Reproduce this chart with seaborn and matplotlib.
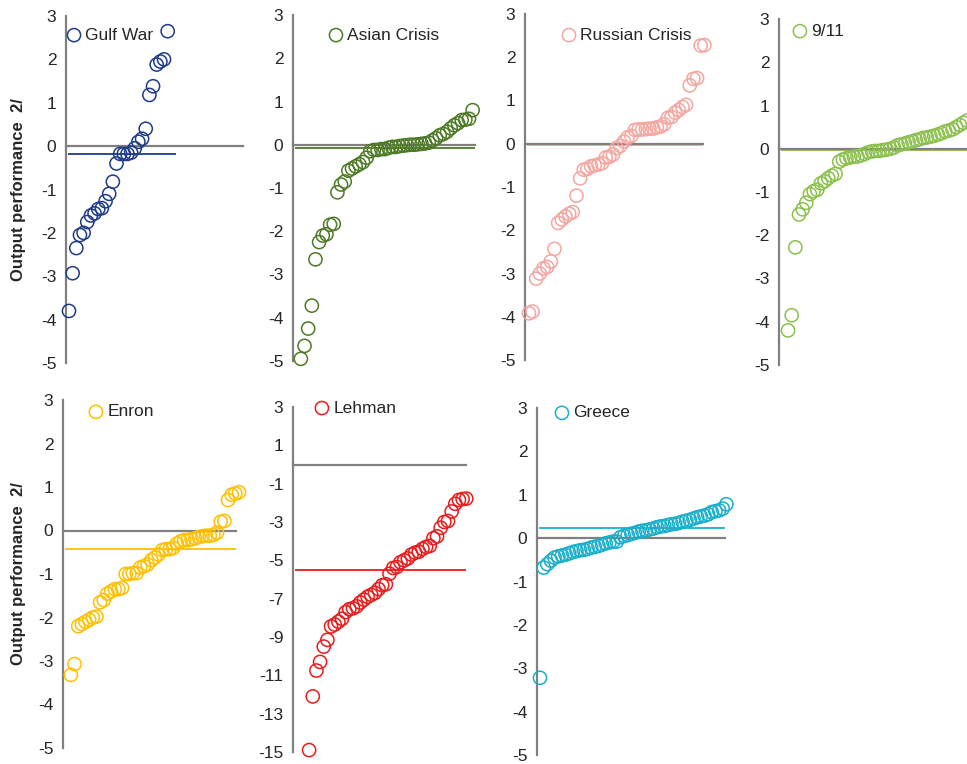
# sorted output performance by event, one panel per shock
import numpy as np
import matplotlib.pyplot as plt
import seaborn as sns

events = ["Gulf War", "Asian Crisis", "Russian Crisis", "9/11", "Enron", "Lehman", "Greece"]

gulf_war = [-3.8, -2.93, -2.35, -2.05, -2.0, -1.75, -1.6, -1.55, -1.45, -1.43, -1.27, -1.1,
            -0.82, -0.4, -0.18, -0.18, -0.18, -0.15, -0.05, 0.1, 0.17, 0.4, 1.18, 1.38,
            1.88, 1.95, 2.0, 2.65]
asian_crisis = [-4.95, -4.65, -4.25, -3.72, -2.65, -2.25, -2.1, -2.07, -1.85, -1.83,
                -1.1, -0.92, -0.85, -0.6, -0.55, -0.5, -0.45, -0.4, -0.3, -0.15,
                -0.12, -0.12, -0.1, -0.1, -0.07, -0.05, -0.05, -0.03, -0.02, -0.01,
                0.0, 0.0, 0.01, 0.02, 0.03, 0.05, 0.1, 0.15, 0.22, 0.25,
                0.3, 0.38, 0.45, 0.5, 0.57, 0.58, 0.6, 0.8]
russian_crisis = [-3.92, -3.88, -3.12, -3.0, -2.88, -2.85, -2.72, -2.43, -1.83, -1.75,
                  -1.68, -1.62, -1.58, -1.2, -0.8, -0.6, -0.58, -0.52, -0.5, -0.48,
                  -0.45, -0.32, -0.3, -0.25, -0.1, -0.05, 0.05, 0.15, 0.18, 0.32,
                  0.33, 0.33, 0.34, 0.35, 0.35, 0.38, 0.4, 0.45, 0.6, 0.62,
                  0.72, 0.78, 0.85, 0.9, 1.35, 1.5, 1.52, 2.27, 2.28]
sept_11 = [-4.2, -3.85, -2.28, -1.52, -1.4, -1.25, -1.05, -0.98, -0.95, -0.8,
           -0.75, -0.68, -0.62, -0.58, -0.3, -0.25, -0.22, -0.2, -0.18, -0.18,
           -0.15, -0.12, -0.08, -0.06, -0.05, -0.05, -0.03, -0.02, 0.0, 0.03,
           0.08, 0.1, 0.12, 0.15, 0.17, 0.2, 0.22, 0.25, 0.26, 0.28,
           0.3, 0.33, 0.36, 0.4, 0.42, 0.45, 0.5, 0.55, 0.6, 0.65]
enron = [-3.32, -3.07, -2.2, -2.15, -2.1, -2.05, -2.0, -1.98, -1.65, -1.6,
         -1.45, -1.4, -1.35, -1.35, -1.32, -1.0, -1.0, -0.98, -0.98, -0.85,
         -0.82, -0.78, -0.68, -0.62, -0.55, -0.45, -0.43, -0.43, -0.4, -0.3,
         -0.25, -0.22, -0.22, -0.2, -0.18, -0.15, -0.13, -0.12, -0.12, -0.1,
         -0.05, 0.2, 0.22, 0.7, 0.82, 0.85, 0.88]
lehman = [-14.9, -12.1, -10.75, -10.3, -9.5, -9.15, -8.45, -8.35, -8.2, -8.05,
          -7.7, -7.55, -7.5, -7.4, -7.2, -7.05, -6.9, -6.8, -6.7, -6.5,
          -6.3, -6.25, -5.7, -5.4, -5.35, -5.1, -5.0, -4.9, -4.7, -4.6,
          -4.55, -4.4, -4.3, -4.25, -3.85, -3.75, -3.3, -3.0, -2.95, -2.45,
          -2.05, -1.85, -1.8, -1.78]
greece = [-3.22, -0.68, -0.6, -0.52, -0.45, -0.42, -0.4, -0.38, -0.35, -0.32,
          -0.3, -0.28, -0.27, -0.25, -0.22, -0.2, -0.18, -0.15, -0.12, -0.1,
          -0.08, -0.08, 0.02, 0.05, 0.07, 0.1, 0.12, 0.15, 0.17, 0.18,
          0.2, 0.22, 0.25, 0.27, 0.28, 0.3, 0.32, 0.33, 0.35, 0.38,
          0.4, 0.42, 0.45, 0.48, 0.5, 0.52, 0.55, 0.6, 0.62, 0.64, 0.68, 0.78]

series = [gulf_war, asian_crisis, russian_crisis, sept_11, enron, lehman, greece]
average_lines = [-0.18, -0.08, -0.04, -0.03, -0.43, -5.5, 0.24]
colors = ["#1F3C88", "#4E7A27", "#F4A6A0", "#8CC04E", "#FFC000", "#E81C1C", "#19AFCB"]

sns.set_style("white")
plt.rcParams["font.family"] = ["Liberation Sans", "DejaVu Sans"]
plt.rcParams["axes.unicode_minus"] = False

W, H = 967, 764
PX_PER_UNIT = 3.93
STEP = 0.93
GRAY = "#808080"

# axis x px, top px, bottom px, x max, first point x, legend anchor, x ticks
layout = [
    (66, 16, 363, 45.0, 0.76, (0.006, 0.945), False),
    (293, 15, 361, 46.3, 2.0, (0.198, 0.942), False),
    (525, 14, 360, 45.3, 1.0, (0.208, 0.939), True),
    (779, 19, 365, 50.0, 2.3, (0.071, 0.965), False),
    (63, 400, 748, 44.0, 2.0, (0.150, 0.966), False),
    (293, 407, 752, 44.0, 4.1, (0.127, 0.997), True),
    (537, 408, 755, 47.8, 0.76, (0.096, 0.986), False),
]

fig = plt.figure(figsize=(W / 100, H / 100), dpi=100)

for i, (name, vals, avg, col) in enumerate(zip(events, series, average_lines, colors)):
    ax_x, top, bottom, xmax, x0, leg_xy, xticks = layout[i]
    ax = fig.add_axes([ax_x / W, 1 - bottom / H, xmax * PX_PER_UNIT / W, (bottom - top) / H])
    xs = x0 + STEP * np.arange(len(vals))

    sns.scatterplot(x=xs, y=vals, ax=ax, marker="o", s=90, facecolors="none",
                    edgecolor=col, linewidth=1.1, label=name, zorder=3, clip_on=False)
    ax.hlines(avg, 0.4, min(xs[-1] + 2, xmax), color=col, lw=1.3, zorder=2)

    if name == "Lehman":
        ax.set_ylim(-15, 3)
        ax.set_yticks(np.arange(-15, 4, 2))
    else:
        ax.set_ylim(-5, 3)
        ax.set_yticks(np.arange(-5, 4, 1))
    ax.set_xlim(0, xmax)

    for side in ["top", "right"]:
        ax.spines[side].set_visible(False)
    ax.spines["left"].set_color(GRAY)
    ax.spines["left"].set_linewidth(1.6)
    ax.spines["bottom"].set_position(("data", 0))
    ax.spines["bottom"].set_color(GRAY)
    ax.spines["bottom"].set_linewidth(1.6)

    ax.set_xticks([20, 40] if xticks else [])
    ax.set_xticklabels([])
    ax.tick_params(axis="x", direction="out", length=4, color=GRAY, width=1.2)
    ax.tick_params(axis="y", direction="out", length=4, color=GRAY, width=1.2,
                   labelsize=12.5, pad=3)
    ax.set_xlabel("")

    if i in (0, 4):
        ax.set_ylabel("Output performance  2/", fontsize=12, fontweight="bold")
        ax.yaxis.set_label_coords((26 - ax_x) / (xmax * PX_PER_UNIT), 0.5)
    else:
        ax.set_ylabel("")

    ax.legend(loc="center left", bbox_to_anchor=leg_xy, frameon=False, fontsize=12.5,
              handlelength=0.8, handletextpad=0.25, borderpad=0, borderaxespad=0)

fig.savefig("out.png", dpi=100)
